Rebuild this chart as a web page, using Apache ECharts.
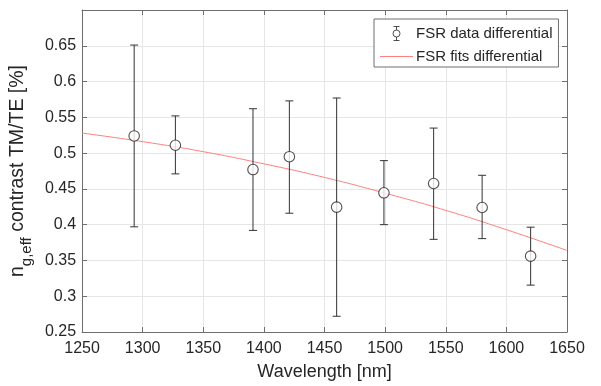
<!DOCTYPE html>
<html>
<head>
<meta charset="utf-8">
<script src="https://cdn.jsdelivr.net/npm/echarts@6/dist/echarts.min.js"></script>
<style>
html,body{margin:0;padding:0;background:#fff;}
#c{width:601px;height:386px;}
</style>
</head>
<body>
<div id="c"></div>
<script>
// Data
const wavelengths = [1293, 1327, 1391, 1421, 1460, 1499, 1540, 1580, 1620];
const contrast    = [0.524, 0.511, 0.477, 0.495, 0.4245, 0.4445, 0.4575, 0.424, 0.356];
const upperBound  = [0.651, 0.552, 0.562, 0.573, 0.577, 0.4895, 0.535, 0.469, 0.3965];
const lowerBound  = [0.397, 0.471, 0.392, 0.416, 0.272, 0.400, 0.3795, 0.3805, 0.3155];
const fitWavelengths = [1250, 1300, 1350, 1400, 1450, 1500, 1550, 1600, 1650];
const fitContrast    = [0.528, 0.516, 0.502, 0.485, 0.466, 0.444, 0.420, 0.393, 0.364];
const xTicks = [1250, 1300, 1350, 1400, 1450, 1500, 1550, 1600, 1650];
const yTicks = [0.25, 0.3, 0.35, 0.4, 0.45, 0.5, 0.55, 0.6, 0.65];
const seriesNames = ['FSR data differential', 'FSR fits differential'];

const FONT = "'Liberation Sans', Arial, Helvetica, sans-serif";
const TXT = '#262626';
const AXIS = '#6e6e6e';
const GRID = '#e6e6e6';
const FIT = '#ff8080';

const chart = echarts.init(document.getElementById('c'), null, {renderer: 'canvas'});

const pointData = wavelengths.map((w, i) => [w, contrast[i]]);
const errData = wavelengths.map((w, i) => [w, lowerBound[i], upperBound[i]]);
const fitData = fitWavelengths.map((w, i) => [w, fitContrast[i]]);

const commonX = {
  type: 'value', min: xTicks[0], max: xTicks[xTicks.length - 1], interval: 50
};
const commonY = {
  type: 'value', min: yTicks[0], max: 0.7, interval: 0.05
};

const option = {
  animation: false,
  backgroundColor: '#fff',
  textStyle: {fontFamily: FONT, color: TXT},
  grid: {left: 82, right: 34, top: 10, bottom: 52, containLabel: false},
  xAxis: [
    Object.assign({}, commonX, {
      position: 'bottom',
      name: 'Wavelength [nm]',
      nameLocation: 'middle',
      nameGap: 31,
      nameTextStyle: {fontSize: 18, color: TXT, fontFamily: FONT},
      axisLine: {show: true, lineStyle: {color: AXIS, width: 1}},
      axisTick: {show: true, inside: true, length: 5, lineStyle: {color: AXIS}},
      axisLabel: {show: true, margin: 9, fontSize: 16, color: TXT, fontFamily: FONT,
        formatter: v => String(Math.round(v))},
      splitLine: {show: true, lineStyle: {color: GRID, width: 1}}
    }),
    Object.assign({}, commonX, {
      position: 'top',
      axisLine: {show: true, onZero: false, lineStyle: {color: AXIS, width: 1}},
      axisTick: {show: true, inside: true, length: 5, lineStyle: {color: AXIS}},
      axisLabel: {show: false},
      splitLine: {show: false}
    })
  ],
  yAxis: [
    Object.assign({}, commonY, {
      position: 'left',
      name: '{a|n}{b|g,eff}{a| contrast TM/TE [%]}',
      nameLocation: 'middle',
      nameRotate: 90,
      nameGap: 42,
      nameTextStyle: {
        color: TXT, fontFamily: FONT,
        rich: {
          a: {fontSize: 19.5, lineHeight: 23, verticalAlign: 'top', color: TXT, fontFamily: FONT},
          b: {fontSize: 15, lineHeight: 15, verticalAlign: 'top', padding: [11, 0, 0, 0], color: TXT, fontFamily: FONT}
        }
      },
      axisLine: {show: true, onZero: false, lineStyle: {color: AXIS, width: 1}},
      axisTick: {show: true, inside: true, length: 5, lineStyle: {color: AXIS}},
      axisLabel: {
        show: true, margin: 6, fontSize: 16, color: TXT, fontFamily: FONT,
        showMaxLabel: false,
        formatter: v => String(+v.toFixed(2))
      },
      splitLine: {show: true, lineStyle: {color: GRID, width: 1}}
    }),
    Object.assign({}, commonY, {
      position: 'right',
      axisLine: {show: true, onZero: false, lineStyle: {color: AXIS, width: 1}},
      axisTick: {show: true, inside: true, length: 5, lineStyle: {color: AXIS}},
      axisLabel: {show: false},
      splitLine: {show: false}
    })
  ],
  legend: {
    orient: 'vertical',
    left: 374,
    top: 19,
    padding: [5, 6, 3, 6],
    itemGap: 6,
    itemWidth: 33,
    itemHeight: 14,
    backgroundColor: '#fff',
    borderColor: '#6e6e6e',
    borderWidth: 1,
    borderRadius: 0,
    align: 'left',
    textStyle: {fontSize: 15, color: TXT, fontFamily: FONT, padding: [0, 0, 0, -2]},
    data: [
      {
        name: seriesNames[0],
        icon: 'path://M2,0 L8,0 M5,0 L5,3.5 M8.5,7 A3.5,3.5 0 1 1 1.5,7 A3.5,3.5 0 1 1 8.5,7 M5,10.5 L5,14 M2,14 L8,14',
        itemStyle: {color: 'none', borderColor: TXT, borderWidth: 1}
      },
      {
        name: seriesNames[1],
        icon: 'path://M0,0 L33,0 L33,1 L0,1 Z',
        itemStyle: {color: FIT, borderWidth: 0}
      }
    ]
  },
  series: [
    {
      name: seriesNames[1],
      type: 'line',
      data: fitData,
      smooth: true,
      symbol: 'none',
      lineStyle: {color: FIT, width: 1},
      itemStyle: {color: FIT},
      z: 2
    },
    {
      name: 'errorbars',
      type: 'custom',
      data: errData,
      z: 3,
      renderItem: function (params, api) {
        const x = api.value(0);
        const lo = api.coord([x, api.value(1)]);
        const hi = api.coord([x, api.value(2)]);
        const w = 4;
        const st = {stroke: '#333', lineWidth: 1};
        return {
          type: 'group',
          children: [
            {type: 'line', shape: {x1: lo[0], y1: lo[1], x2: hi[0], y2: hi[1]}, style: st},
            {type: 'line', shape: {x1: lo[0] - w, y1: lo[1], x2: lo[0] + w, y2: lo[1]}, style: st},
            {type: 'line', shape: {x1: hi[0] - w, y1: hi[1], x2: hi[0] + w, y2: hi[1]}, style: st}
          ]
        };
      }
    },
    {
      name: seriesNames[0],
      type: 'scatter',
      data: pointData,
      symbol: 'circle',
      symbolSize: 10.5,
      itemStyle: {color: '#fff', borderColor: TXT, borderWidth: 1.1},
      z: 4
    }
  ]
};
chart.setOption(option);
</script>
</body>
</html>
